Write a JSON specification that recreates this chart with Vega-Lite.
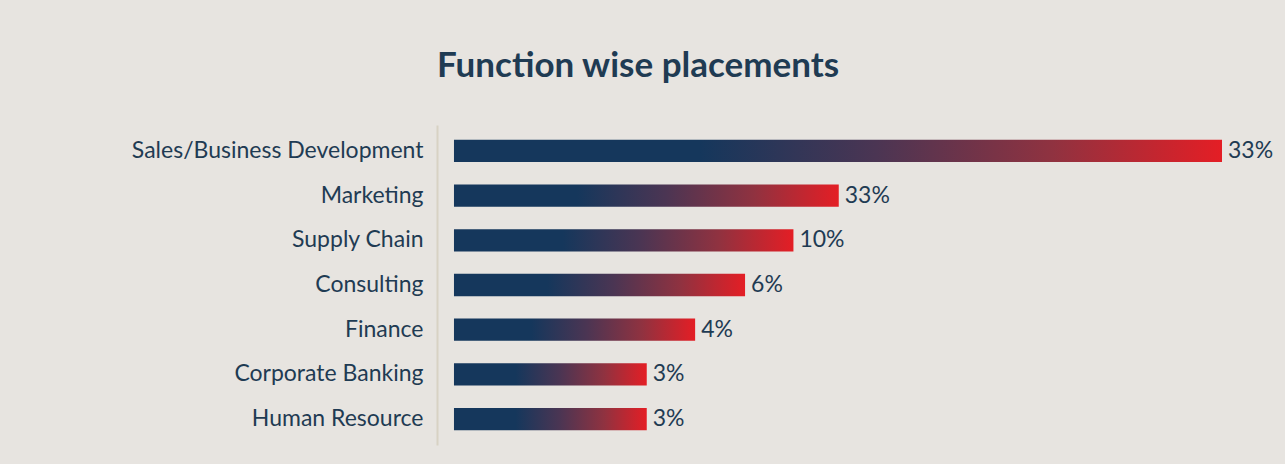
{
  "$schema": "https://vega.github.io/schema/vega-lite/v6.json",
  "width": 785,
  "height": 320,
  "autosize": {"type": "none"},
  "padding": {"left": 437, "top": 125, "right": 63, "bottom": 19},
  "background": "#e7e4e0",
  "title": {
    "text": "Function wise placements",
    "anchor": "start",
    "frame": "group",
    "font": "Lato",
    "fontSize": 35,
    "fontWeight": "bold",
    "color": "#1f3b53",
    "offset": 41
  },
  "data": {
    "values": [
      {"function": "Sales/Business Development", "bar": 100, "pct": "33%"},
      {"function": "Marketing", "bar": 50.1, "pct": "33%"},
      {"function": "Supply Chain", "bar": 44.2, "pct": "10%"},
      {"function": "Consulting", "bar": 37.9, "pct": "6%"},
      {"function": "Finance", "bar": 31.4, "pct": "4%"},
      {"function": "Corporate Banking", "bar": 25.1, "pct": "3%"},
      {"function": "Human Resource", "bar": 25.1, "pct": "3%"}
    ]
  },
  "encoding": {
    "y": {
      "field": "function",
      "type": "nominal",
      "sort": null,
      "title": null,
      "scale": {"paddingInner": 0.5, "paddingOuter": 0.33},
      "axis": {
        "ticks": false,
        "domainColor": "#d8d2c4",
        "domainWidth": 2,
        "labelFont": "Lato",
        "labelFontSize": 23,
        "labelColor": "#1f3b53",
        "labelPadding": 14,
        "labelLimit": 400
      }
    },
    "x": {
      "field": "bar",
      "type": "quantitative",
      "scale": {"domain": [-2.21, 100], "nice": false, "zero": false},
      "axis": null
    }
  },
  "layer": [
    {
      "mark": {
        "type": "bar",
        "color": {
          "gradient": "linear",
          "x1": 0, "y1": 0, "x2": 1, "y2": 0,
          "stops": [
            {"offset": 0, "color": "#15375c"},
            {"offset": 0.32, "color": "#15375c"},
            {"offset": 0.55, "color": "#4b3553"},
            {"offset": 0.78, "color": "#903240"},
            {"offset": 1, "color": "#e41e25"}
          ]
        }
      }
    },
    {
      "mark": {
        "type": "text",
        "align": "left",
        "baseline": "middle",
        "dx": 6,
        "font": "Lato",
        "fontSize": 23,
        "color": "#1f3b53"
      },
      "encoding": {"text": {"field": "pct"}}
    }
  ],
  "config": {"view": {"stroke": null}}
}
